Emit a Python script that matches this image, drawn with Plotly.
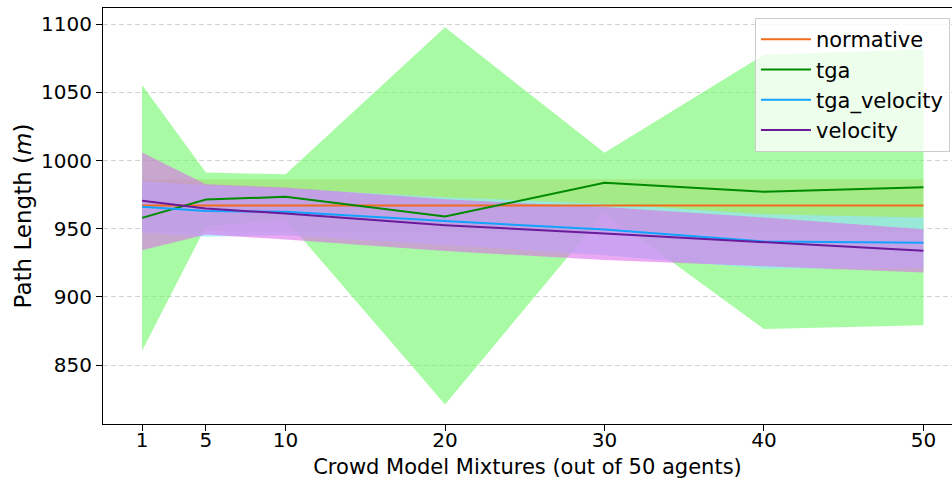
import plotly.graph_objects as go

x_vals = [1, 5, 10, 20, 30, 40, 50]
x_ticks = [1, 5, 10, 20, 30, 40, 50]
y_ticks = [850, 900, 950, 1000, 1050, 1100]

normative_mean = [967.1, 967.1, 967.1, 967.1, 967.1, 967.1, 967.1]
normative_upper = [986.4, 986.4, 986.4, 986.4, 986.4, 986.4, 986.4]
normative_lower = [947.8, 947.8, 947.8, 947.8, 947.8, 947.8, 947.8]

tga_mean = [958.0, 971.5, 973.4, 959.0, 983.7, 977.1, 980.5]
tga_upper = [1055.5, 991.3, 989.9, 1097.8, 1005.7, 1077.7, 1081.8]
tga_lower = [860.5, 951.7, 956.9, 821.0, 961.7, 876.5, 879.2]

tgv_mean = [966.1, 963.0, 962.4, 955.6, 949.5, 940.7, 939.7]
tgv_upper = [984.9, 981.9, 979.5, 973.1, 968.4, 960.7, 958.3]
tgv_lower = [947.0, 944.1, 945.3, 938.1, 930.6, 920.7, 921.1]

vel_mean = [970.5, 964.8, 961.2, 952.6, 946.5, 940.4, 933.8]
vel_upper = [1006.0, 982.7, 980.2, 971.6, 965.9, 958.3, 949.7]
vel_lower = [934.3, 945.8, 942.1, 933.6, 927.1, 922.5, 917.9]

series = [
    ("normative", normative_mean, normative_upper, normative_lower, "#f26b1d"),
    ("tga", tga_mean, tga_upper, tga_lower, "#008a00"),
    ("tga_velocity", tgv_mean, tgv_upper, tgv_lower, "#12a2ff"),
    ("velocity", vel_mean, vel_upper, vel_lower, "#6a1b9a"),
]
fill_colors = {
    "tga": "rgba(110,248,103,0.6)",
    "normative": "rgba(155,194,71,0.3)",
    "tga_velocity": "rgba(150,231,250,0.7)",
    "velocity": "rgba(222,112,236,0.6)",
}
fill_order = ["tga", "normative", "tga_velocity", "velocity"]

fig = go.Figure()
lookup = {s[0]: s for s in series}
for name in fill_order:
    _, m, up, lo, _c = lookup[name]
    fig.add_trace(go.Scatter(
        x=x_vals + x_vals[::-1], y=up + lo[::-1],
        fill="toself", fillcolor=fill_colors[name],
        line=dict(width=0), mode="lines", showlegend=False, hoverinfo="skip"))

for name, m, up, lo, c in series:
    fig.add_trace(go.Scatter(x=x_vals, y=m, mode="lines", name=name,
                             line=dict(color=c, width=2)))

font_family = "DejaVu Sans"
fig.update_layout(
    width=952, height=482,
    margin=dict(l=103, r=0, t=8, b=58),
    paper_bgcolor="white", plot_bgcolor="white",
    font=dict(family=font_family, size=20, color="black"),
    legend=dict(x=0.9976, y=0.976, xanchor="right", yanchor="top",
                bgcolor="rgba(255,255,255,0.8)", bordercolor="#cccccc", borderwidth=1,
                font=dict(size=21), tracegroupgap=0, itemwidth=50),
    showlegend=True,
)
fig.update_xaxes(
    range=[-1.45, 51.79], tickmode="array", tickvals=x_ticks,
    ticktext=[str(t) for t in x_ticks],
    showgrid=False, zeroline=False,
    showline=True, linecolor="black", linewidth=1.2, mirror=True,
    ticks="outside", ticklen=6, tickcolor="black",
    tickfont=dict(size=20), ticklabelstandoff=-8,
    title=dict(text="Crowd Model Mixtures (out of 50 agents)", font=dict(size=21), standoff=8),
)
fig.update_yaxes(
    range=[806.7, 1112.0], tickmode="array", tickvals=y_ticks,
    ticktext=[str(t) for t in y_ticks],
    showgrid=True, gridcolor="#d3d3d3", griddash="5px,3px", gridwidth=1,
    zeroline=False,
    showline=True, linecolor="black", linewidth=1.2,
    ticks="outside", ticklen=6, tickcolor="black",
    tickfont=dict(size=20),
    title=dict(text="Path Length (<i>m</i>)", font=dict(size=23), standoff=2),
)

fig.write_html("out.html")
